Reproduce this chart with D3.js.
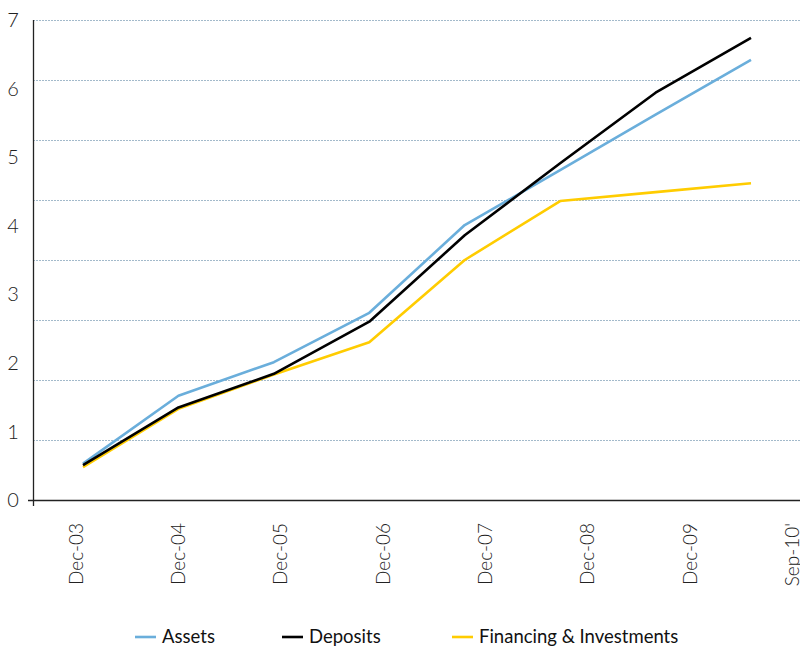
<!DOCTYPE html>
<html>
<head>
<meta charset="utf-8">
<script src="https://cdn.jsdelivr.net/npm/d3@7"></script>
<style>
  html, body { margin: 0; padding: 0; background: #fff; }
  svg { display: block; font-family: Lato, "Open Sans", sans-serif; }
</style>
</head>
<body>
<div id="chart"></div>
<script>
// categories and series
var categories = ["Dec-03", "Dec-04", "Dec-05", "Dec-06", "Dec-07", "Dec-08", "Dec-09", "Sep-10'"];
var assets    = [0.53, 1.52, 2.01, 2.73, 4.01, 4.81, 5.62, 6.42];
var deposits  = [0.51, 1.35, 1.84, 2.60, 3.86, 4.91, 5.94, 6.74];
var financing = [0.48, 1.33, 1.83, 2.30, 3.50, 4.36, 4.49, 4.62];
var yTicks = [0, 1, 2, 3, 4, 5, 6, 7];

var seriesNames = ["Assets", "Deposits", "Financing & Investments"];
var seriesColors = ["#6aaedb", "#000000", "#ffcc00"];

var width = 800, height = 648;

var svg = d3.select("#chart").append("svg")
  .attr("width", width)
  .attr("height", height);

// value scale used for labels and lines
var y = d3.scaleLinear().domain([0, 7]).range([500, 20]);
// gridlines are drawn on an 8-step grid, as in the original
var yGrid = d3.scaleLinear().domain([0, 8]).range([500, 20]);

var x = d3.scalePoint().domain(categories).range([83, 751]);
var xLab = d3.scalePoint().domain(categories).range([76, 792]);

// gridlines
svg.append("g")
  .selectAll("line")
  .data(yGrid.ticks(8).filter(function (d) { return d > 0; }))
  .enter().append("line")
  .attr("x1", 33).attr("x2", width)
  .attr("y1", function (d) { return yGrid(d) + 0.5; })
  .attr("y2", function (d) { return yGrid(d) + 0.5; })
  .style("stroke", "#a3bacb")
  .style("stroke-width", 1)
  .style("stroke-dasharray", "2,1");

// axes lines
svg.append("line")
  .attr("x1", 33.5).attr("x2", 33.5)
  .attr("y1", 20).attr("y2", 506)
  .style("stroke", "#222").style("stroke-width", 1.3);
svg.append("line")
  .attr("x1", 28).attr("x2", width)
  .attr("y1", 500.5).attr("y2", 500.5)
  .style("stroke", "#222").style("stroke-width", 1.3);

// y labels
svg.append("g")
  .selectAll("text")
  .data(yTicks)
  .enter().append("text")
  .attr("x", 13)
  .attr("y", function (d) { return y(d); })
  .attr("dy", "0.36em")
  .attr("text-anchor", "middle")
  .style("font-size", "20px")
  .style("font-weight", 300)
  .style("fill", "#222")
  .text(function (d) { return d; });

// x labels, rotated
svg.append("g")
  .selectAll("text")
  .data(categories)
  .enter().append("text")
  .attr("transform", function (d) { return "translate(" + xLab(d) + ",523) rotate(-90)"; })
  .attr("dy", "0.36em")
  .attr("text-anchor", "end")
  .style("font-size", "19px")
  .style("font-weight", 300)
  .style("fill", "#222")
  .text(function (d) { return d; });

// lines
var line = d3.line()
  .x(function (d, i) { return x(categories[i]); })
  .y(function (d) { return y(d); });

var allSeries = [assets, financing, deposits];
var order = [0, 2, 1];
svg.append("g")
  .selectAll("path")
  .data(allSeries)
  .enter().append("path")
  .attr("d", line)
  .style("fill", "none")
  .style("stroke", function (d, i) { return seriesColors[order[i]]; })
  .style("stroke-width", 2.6)
  .style("stroke-linejoin", "round");

// legend
var legendX = [135, 282, 452];
var legend = svg.append("g")
  .selectAll("g")
  .data(seriesNames)
  .enter().append("g")
  .attr("transform", function (d, i) { return "translate(" + legendX[i] + ",637)"; });

legend.append("line")
  .attr("x1", 0).attr("x2", 21)
  .attr("y1", 0).attr("y2", 0)
  .style("stroke", function (d, i) { return seriesColors[i]; })
  .style("stroke-width", 2.6);

legend.append("text")
  .attr("x", 27)
  .attr("y", 5.5)
  .style("font-size", "18.5px")
  .style("fill", "#111")
  .text(function (d) { return d; });
</script>
</body>
</html>
